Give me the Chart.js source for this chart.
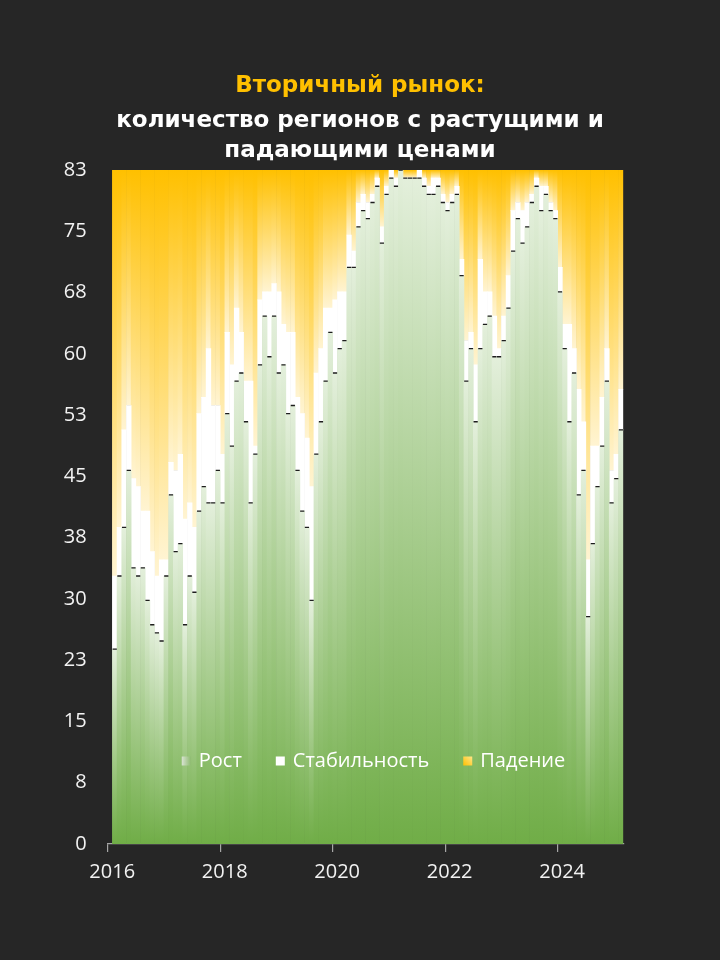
<!DOCTYPE html>
<html>
<head>
<meta charset="utf-8">
<script src="https://cdn.jsdelivr.net/npm/chart.js@4.4.1/dist/chart.umd.min.js"></script>
<style>
  html, body { margin: 0; padding: 0; background: #262626; }
  canvas { display: block; }
</style>
</head>
<body>
<canvas id="regionsChart" width="720" height="960"></canvas>
<script>
// monthly data, Feb 2016 .. Feb 2025 (number of regions out of 83)
const firstYear = 2016;
const firstMonth = 2;

const rost = [
  24, 33, 39, 46, 34, 33, 34, 30, 27, 26, 25,
  33, 43, 36, 37, 27, 33, 31, 41, 44, 42, 42, 46,
  42, 53, 49, 57, 58, 52, 42, 48, 59, 65, 60, 65,
  58, 59, 53, 54, 46, 41, 39, 30, 48, 52, 57, 63,
  58, 61, 62, 71, 71, 76, 78, 77, 79, 81, 74, 80,
  82, 81, 83, 82, 82, 82, 82, 81, 80, 80, 81, 79,
  78, 79, 80, 70, 57, 61, 52, 61, 64, 65, 60, 60,
  62, 66, 73, 77, 74, 76, 79, 81, 78, 80, 78, 77,
  68, 61, 52, 58, 43, 46, 28, 37, 44, 49, 57, 42,
  45, 51
];
const stab = [
  9, 6, 12, 8, 11, 11, 7, 11, 9, 7, 10,
  2, 4, 10, 11, 13, 9, 8, 12, 11, 19, 12, 8,
  6, 10, 10, 9, 5, 5, 15, 1, 8, 3, 8, 4,
  10, 5, 10, 9, 9, 12, 11, 14, 10, 9, 9, 3,
  9, 7, 6, 4, 2, 3, 2, 2, 1, 1, 2, 1,
  1, 1, 0, 0, 0, 0, 1, 1, 1, 2, 1, 1,
  1, 1, 1, 2, 5, 2, 7, 11, 4, 3, 5, 1,
  3, 4, 5, 2, 4, 3, 1, 1, 3, 1, 1, 1,
  3, 3, 12, 3, 13, 6, 7, 12, 5, 6, 4, 4,
  3, 5
];
const pad = [
  50, 44, 32, 29, 38, 39, 42, 42, 47, 50, 48,
  48, 36, 37, 35, 43, 41, 44, 30, 28, 22, 29, 29,
  35, 20, 24, 17, 20, 26, 26, 34, 16, 15, 15, 14,
  15, 19, 20, 20, 28, 30, 33, 39, 25, 22, 17, 17,
  16, 15, 15, 8, 10, 4, 3, 4, 3, 1, 7, 2,
  0, 1, 0, 1, 1, 1, 0, 1, 2, 1, 1, 3,
  4, 3, 2, 11, 21, 20, 24, 11, 15, 15, 18, 22,
  18, 13, 5, 4, 5, 4, 3, 1, 2, 2, 4, 5,
  12, 19, 19, 22, 27, 31, 48, 34, 34, 28, 22, 37,
  35, 27
];

const totalRegions = 83;
const xTickYears = [2016, 2018, 2020, 2022, 2024];
const yTickLabels = [0, 8, 15, 23, 30, 38, 45, 53, 60, 68, 75, 83];

// month labels "YYYY-MM" and their position on a month axis (0 = Jan 2016)
const months = rost.map((_, i) => {
  const k = firstMonth - 1 + i;
  return (firstYear + Math.floor(k / 12)) + "-" + String(k % 12 + 1).padStart(2, "0");
});
const monthPos = months.map(s => {
  const [yr, mo] = s.split("-").map(Number);
  return (yr - firstYear) * 12 + (mo - 1) + 0.5;
});

const greenStops = ["#e3efdb", "#70ad47"];
const yellowStops = ["#ffc000", "#fff4d2"];

// vertical gradient spanning one bar segment only
function segmentFill(c, lo, hi, stops) {
  const chart = c.chart;
  const y = chart.scales.y;
  if (c.type !== "data" || !chart.chartArea || !y) return stops[1];
  const top = y.getPixelForValue(hi);
  const base = y.getPixelForValue(lo);
  if (Math.abs(base - top) < 0.5) return stops[0];
  const g = chart.ctx.createLinearGradient(0, top, 0, base);
  g.addColorStop(0, stops[0]);
  g.addColorStop(1, stops[1]);
  return g;
}

const legendInside = {
  id: "legendInside",
  afterDatasetsDraw(chart) {
    const ctx = chart.ctx;
    const area = chart.chartArea;
    const box = 9, gapText = 8, gapItem = 34;
    ctx.save();
    ctx.font = '20px "Open Sans"';
    const items = chart.data.datasets
      .filter(ds => ds.type !== "line")
      .map(ds => ({label: ds.label, w: ctx.measureText(ds.label).width}));
    const total = items.reduce((s, it) => s + box + gapText + it.w, 0) + gapItem * (items.length - 1);
    let x = (area.left + area.right) / 2 + 8 - total / 2;
    const yMid = area.bottom - 83;
    items.forEach((it, i) => {
      let fill;
      if (i === 0) {
        fill = ctx.createLinearGradient(x, 0, x + box, 0);
        fill.addColorStop(0, "#d9e3d3");
        fill.addColorStop(1, "#8fbb72");
      } else if (i === 1) {
        fill = "#ffffff";
      } else {
        fill = ctx.createLinearGradient(x, yMid + box / 2, x + box, yMid - box / 2);
        fill.addColorStop(0, "#ffc000");
        fill.addColorStop(1, "#ffe58a");
      }
      ctx.fillStyle = fill;
      ctx.fillRect(x, yMid - box / 2, box, box);
      x += box + gapText;
      ctx.fillStyle = "#ffffff";
      ctx.textBaseline = "middle";
      ctx.textAlign = "left";
      ctx.fillText(it.label, x, yMid);
      x += it.w + gapItem;
    });
    ctx.restore();
  }
};

Chart.defaults.font.family = '"Open Sans", "Noto Sans", sans-serif';
Chart.defaults.color = "#f2f2f2";

new Chart(document.getElementById("regionsChart"), {
  type: "bar",
  data: {
    labels: monthPos,
    datasets: [
      {
        // black dash on top of each "Рост" segment
        type: "line",
        label: "Рост (граница)",
        data: rost,
        order: -1,
        showLine: false,
        pointStyle: "line",
        pointRadius: 2.1,
        pointBorderWidth: 1.3,
        pointBorderColor: "#1e1e1e",
        pointBackgroundColor: "#1e1e1e"
      },
      {
        label: "Рост",
        data: rost,
        backgroundColor: c => segmentFill(c, 0, rost[c.dataIndex], greenStops),
        borderWidth: 0
      },
      {
        label: "Стабильность",
        data: stab,
        backgroundColor: "#ffffff",
        borderWidth: 0
      },
      {
        label: "Падение",
        data: pad,
        backgroundColor: c => segmentFill(c, rost[c.dataIndex] + stab[c.dataIndex], totalRegions, yellowStops),
        borderWidth: 0
      }
    ]
  },
  options: {
    responsive: false,
    animation: false,
    events: [],
    barPercentage: 1,
    categoryPercentage: 1,
    layout: {padding: {left: 0, right: 0, top: 0, bottom: 56}},
    plugins: {
      legend: {display: false},
      tooltip: {enabled: false},
      title: {
        display: true,
        text: "Вторичный рынок:",
        color: "#ffc000",
        font: {family: '"DejaVu Sans", sans-serif', size: 23, weight: "bold", lineHeight: "30px"},
        padding: {top: 71, bottom: 0}
      },
      subtitle: {
        display: true,
        text: ["количество регионов с растущими и", "падающими ценами"],
        color: "#ffffff",
        font: {family: '"DejaVu Sans", sans-serif', size: 23, weight: "bold", lineHeight: "30px"},
        padding: {top: 5, bottom: 4}
      }
    },
    scales: {
      x: {
        type: "linear",
        stacked: true,
        offset: false,
        min: 0,
        max: 110,
        afterFit: s => { s.height = 60; },
        afterBuildTicks: s => { s.ticks = xTickYears.map(yr => ({value: (yr - firstYear) * 12})); },
        ticks: {
          autoSkip: false,
          maxRotation: 0,
          padding: 8,
          labelOffset: 4.5,
          color: "#f2f2f2",
          font: {size: 20},
          callback: v => firstYear + v / 12
        },
        grid: {display: true, offset: false, drawOnChartArea: false, drawTicks: true, tickLength: 8, color: "#a6a6a6", lineWidth: 1.2},
        border: {display: true, color: "#a6a6a6", width: 1.2}
      },
      y: {
        stacked: true,
        min: 0,
        max: totalRegions,
        afterFit: s => { s.width = 107.7; },
        afterBuildTicks: s => { s.ticks = yTickLabels.map((_, i) => ({value: i * totalRegions / (yTickLabels.length - 1)})); },
        ticks: {
          autoSkip: false,
          padding: 21,
          color: "#f2f2f2",
          font: {size: 20},
          callback: (v, i) => yTickLabels[i]
        },
        grid: {display: false, drawTicks: false},
        border: {display: false}
      },
      // empty right-hand spacer so the plot ends where the reference does
      spacer: {
        position: "right",
        display: true,
        afterFit: s => { s.width = 96.7; },
        ticks: {display: false},
        grid: {display: false, drawTicks: false},
        border: {display: false}
      }
    }
  },
  plugins: [legendInside]
});
</script>
</body>
</html>
